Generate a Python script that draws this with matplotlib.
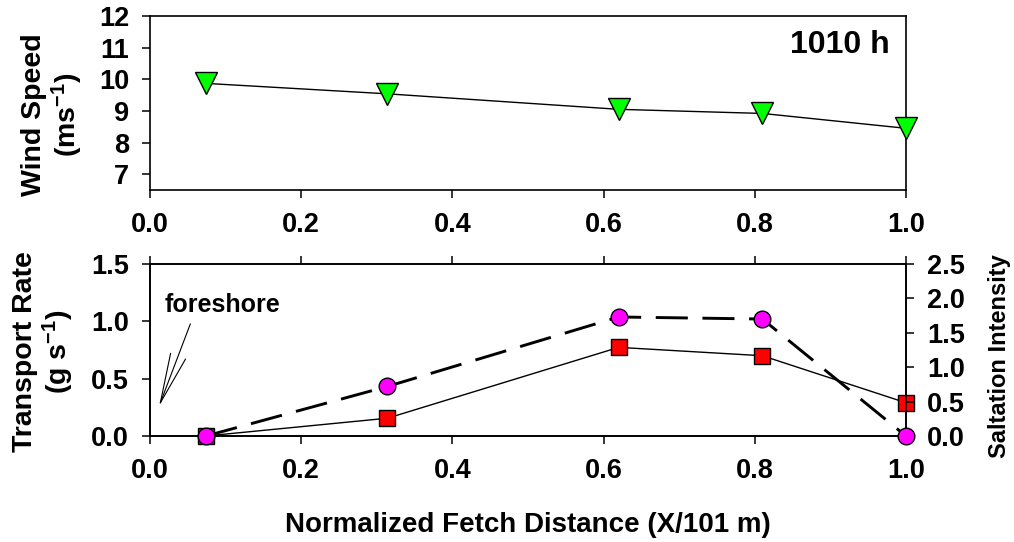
import matplotlib
matplotlib.use("Agg")
import matplotlib.pyplot as plt

plt.rcParams['font.family'] = 'Liberation Sans'
plt.rcParams['font.weight'] = 'bold'
plt.rcParams['mathtext.fontset'] = 'custom'
plt.rcParams['mathtext.rm'] = 'Liberation Sans:bold'
plt.rcParams['mathtext.default'] = 'rm'

# data
fetch = [0.074, 0.314, 0.62, 0.81, 1.0]
wind_speed = [9.87, 9.54, 9.05, 8.92, 8.45]
transport = [0.0, 0.155, 0.773, 0.70, 0.29]
saltation = [0.0, 0.72, 1.73, 1.70, 0.0]

x_ticks = [0.0, 0.2, 0.4, 0.6, 0.8, 1.0]
x_ticklabels = ['0.0', '0.2', '0.4', '0.6', '0.8', '1.0']
ws_ticks = [7, 8, 9, 10, 11, 12]
tr_ticks = [0.0, 0.5, 1.0, 1.5]
si_ticks = [0.0, 0.5, 1.0, 1.5, 2.0, 2.5]

fs = 19.5
lab_fs = 20.5
W, H = 1014, 542
fig = plt.figure(figsize=(W / 100, H / 100), dpi=100)

axW = fig.add_axes([150 / W, 1 - 190 / H, 756 / W, 174 / H])
axT = fig.add_axes([150 / W, 1 - 436 / H, 756 / W, 172 / H])
axS = axT.twinx()


def style(ax):
    for s in ax.spines.values():
        s.set_linewidth(1.2)
    ax.tick_params(direction='out', length=6, width=1.1, labelsize=fs, pad=9)


# ---- wind speed
axW.plot(fetch, wind_speed, color='k', lw=1.0, marker='v', ms=15.5,
         mfc='#00ff00', mec='k', mew=1.0, clip_on=False, zorder=5)
axW.set_xlim(0, 1.0)
axW.set_ylim(6.5, 12)
axW.set_xticks(x_ticks)
axW.set_xticklabels(x_ticklabels)
axW.set_yticks(ws_ticks)
style(axW)
axW.tick_params(axis='x', pad=10)
axW.set_ylabel('Wind Speed\n(ms$^{-1}$)', fontsize=lab_fs, fontweight='bold',
               linespacing=1.1)
axW.yaxis.set_label_coords(-0.086, 0.43)
axW.text(0.979, 0.833, '1010 h', transform=axW.transAxes, ha='right',
         va='center', fontsize=23, fontweight='bold')

# ---- transport rate (left) and saltation intensity (right)
axT.plot(fetch, transport, color='k', lw=1.0, marker='s', ms=11,
         mfc='#ff0000', mec='k', mew=1.0, clip_on=False, zorder=3)
axT.set_xlim(0, 1.0)
axT.set_ylim(0, 1.5)
axT.set_xticks(x_ticks)
axT.set_xticklabels(x_ticklabels)
axT.set_yticks(tr_ticks)
style(axT)
axT.tick_params(axis='x', top=True, pad=10)
axT.set_ylabel('Transport Rate\n(g s$^{-1}$)', fontsize=lab_fs,
               fontweight='bold', linespacing=1.1)
axT.yaxis.set_label_coords(-0.098, 0.49)
axT.set_xlabel('Normalized Fetch Distance (X/101 m)', fontsize=fs + 0.5,
               fontweight='bold')
axT.xaxis.set_label_coords(0.5, -0.44)

axS.plot(fetch, saltation, color='k', lw=2.1, dashes=(11, 5),
         marker='o', ms=12, mfc='#ff00ff', mec='k', mew=1.0,
         clip_on=False, zorder=4)
axS.set_ylim(0, 2.5)
axS.set_yticks(si_ticks)
style(axS)
axS.set_ylabel('Saltation Intensity', fontsize=17, fontweight='bold')
axS.yaxis.set_label_coords(1.108, 0.465)

axT.annotate('foreshore', xy=(0.012, 0.26), xytext=(0.02, 1.08),
             textcoords='data', fontsize=18, fontweight='bold',
             ha='left', va='baseline',
             arrowprops=dict(arrowstyle='->,head_length=2.0,head_width=0.32',
                             color='k', lw=0.8, shrinkA=3, shrinkB=0,
                             relpos=(0.24, 0.0)))

fig.savefig('out.png', dpi=100)
